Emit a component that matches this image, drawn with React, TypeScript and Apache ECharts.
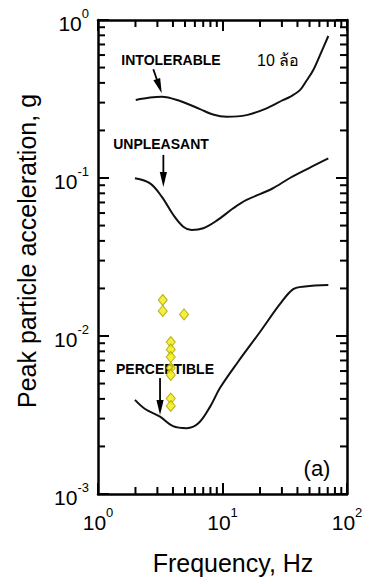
import React, { useEffect, useRef } from 'react';
import * as echarts from 'echarts';

const FONT = '"Liberation Sans", Arial, Helvetica, sans-serif';

const X_MIN = 1;
const X_MAX = 100;
const Y_MIN = 0.001;
const Y_MAX = 1;

// Frequency (Hz) / acceleration (g)
const intolerableX = [2.01, 2.62, 3.25, 4.56, 6.6, 8.39, 10.8, 15.6, 22.6, 30.8, 34.8, 41.9, 47.7, 53.6, 60.7, 70.8];
const intolerableY = [0.312, 0.323, 0.327, 0.307, 0.273, 0.252, 0.244, 0.25, 0.276, 0.312, 0.326, 0.36, 0.417, 0.483, 0.6, 0.792];

const unpleasantX = [1.98, 2.62, 3.25, 4.03, 4.84, 5.66, 7.01, 8.98, 12.2, 15.6, 25, 34.8, 50, 70.8];
const unpleasantY = [0.0995, 0.0925, 0.0762, 0.0583, 0.0492, 0.0469, 0.0481, 0.0537, 0.0643, 0.0726, 0.0855, 0.1, 0.116, 0.133];

const perceptibleX = [1.98, 2.39, 3.15, 4.0, 5.16, 6.4, 8.0, 9.56, 13.3, 20.0, 29.0, 37.0, 46.0, 70.8];
const perceptibleY = [0.00394, 0.00345, 0.00309, 0.00269, 0.00261, 0.0028, 0.0036, 0.0047, 0.00685, 0.0106, 0.01595, 0.0198, 0.0206, 0.021];

const measuredX = [3.31, 3.31, 4.91, 3.84, 3.84, 3.84, 3.84, 3.84, 3.84, 3.84];
const measuredY = [0.0169, 0.0144, 0.0137, 0.00916, 0.00822, 0.00736, 0.00627, 0.00567, 0.00402, 0.00361];

const xMinorTicks = [2, 3, 4, 5, 6, 7, 8, 9, 20, 30, 40, 50, 60, 70, 80, 90];
const yMinorTicks = [
  0.002, 0.003, 0.004, 0.005, 0.006, 0.007, 0.008, 0.009,
  0.02, 0.03, 0.04, 0.05, 0.06, 0.07, 0.08, 0.09,
  0.2, 0.3, 0.4, 0.5, 0.6, 0.7, 0.8, 0.9,
];

// arrows: [tailX, tailY, tipX, tipY]
const arrowIntolerable = [2.78, 0.488, 3.25, 0.344];
const arrowUnpleasant = [3.35, 0.14, 3.35, 0.0877];
const arrowPerceptible = [3.15, 0.00542, 3.15, 0.00316];

const zip = (xs: number[], ys: number[]) => xs.map((x, i) => [x, ys[i]]);

const expLabel = (v: number) => {
  const e = Math.round(Math.log10(v));
  return `{b|10}{s|${e}}`;
};

const labelRich = {
  b: { fontSize: 21, fontFamily: FONT, color: '#000', padding: [6, 0, 0, 0] },
  s: { fontSize: 13, fontFamily: FONT, color: '#000', verticalAlign: 'top' },
};

const axisLine = { show: true, onZero: false, lineStyle: { color: '#000', width: 2.5 } };
const axisTick = { show: true, inside: true, length: 11, lineStyle: { color: '#000', width: 2 } };

export default function App() {
  const ref = useRef<HTMLDivElement>(null);

  useEffect(() => {
    const chart = echarts.init(ref.current!, null, { renderer: 'svg' });

    const lineSeries = (name: string, xs: number[], ys: number[]) => ({
      name,
      type: 'line',
      data: zip(xs, ys),
      smooth: 0.35,
      showSymbol: false,
      symbol: 'none',
      lineStyle: { color: '#111', width: 2 },
      z: 2,
      silent: true,
    });

    const tickLine = (x1: number, y1: number, x2: number, y2: number) => ({
      type: 'line',
      shape: { x1, y1, x2, y2 },
      style: { stroke: '#000', lineWidth: 2 },
    });

    const option: any = {
      animation: false,
      backgroundColor: '#fff',
      grid: { left: 98, right: 25, top: 20, bottom: 90 },
      xAxis: [
        {
          type: 'log', logBase: 10, min: X_MIN, max: X_MAX, position: 'bottom',
          axisLine, axisTick, splitLine: { show: false }, minorTick: { show: false },
          axisLabel: { formatter: expLabel, rich: labelRich, margin: 12 },
        },
        {
          type: 'log', logBase: 10, min: X_MIN, max: X_MAX, position: 'top',
          axisLine, axisTick, splitLine: { show: false }, axisLabel: { show: false },
        },
      ],
      yAxis: [
        {
          type: 'log', logBase: 10, min: Y_MIN, max: Y_MAX, position: 'left',
          axisLine, axisTick, splitLine: { show: false }, minorTick: { show: false },
          axisLabel: { formatter: expLabel, rich: labelRich, margin: 9 },
        },
        {
          type: 'log', logBase: 10, min: Y_MIN, max: Y_MAX, position: 'right',
          axisLine, axisTick, splitLine: { show: false }, axisLabel: { show: false },
        },
      ],
      series: [
        lineSeries('INTOLERABLE', intolerableX, intolerableY),
        lineSeries('UNPLEASANT', unpleasantX, unpleasantY),
        lineSeries('PERCEPTIBLE', perceptibleX, perceptibleY),
        {
          name: 'measured',
          type: 'scatter',
          data: zip(measuredX, measuredY),
          symbol: 'diamond',
          symbolSize: [9, 11],
          itemStyle: { color: '#f3ec0a', borderColor: '#a59d00', borderWidth: 1 },
          z: 5,
          silent: true,
        },
        {
          name: 'xMinor',
          type: 'custom',
          clip: false,
          silent: true,
          data: xMinorTicks.map((v) => [v, Y_MIN]),
          encode: { x: 0, y: 1 },
          renderItem: (_p: any, api: any) => {
            const v = api.value(0);
            const b = api.coord([v, Y_MIN]);
            const t = api.coord([v, Y_MAX]);
            return {
              type: 'group',
              children: [tickLine(b[0], b[1], b[0], b[1] - 7), tickLine(t[0], t[1], t[0], t[1] + 7)],
            };
          },
          z: 3,
        },
        {
          name: 'yMinor',
          type: 'custom',
          clip: false,
          silent: true,
          data: yMinorTicks.map((v) => [X_MIN, v]),
          encode: { x: 0, y: 1 },
          renderItem: (_p: any, api: any) => {
            const v = api.value(1);
            const l = api.coord([X_MIN, v]);
            const r = api.coord([X_MAX, v]);
            return {
              type: 'group',
              children: [tickLine(l[0], l[1], l[0] + 7, l[1]), tickLine(r[0], r[1], r[0] - 7, r[1])],
            };
          },
          z: 3,
        },
      ],
    };

    chart.setOption(option);

    const arrowEls = (a: number[]) => {
      const p1 = chart.convertToPixel({ gridIndex: 0 }, [a[0], a[1]]) as number[];
      const p2 = chart.convertToPixel({ gridIndex: 0 }, [a[2], a[3]]) as number[];
      const dx = p2[0] - p1[0];
      const dy = p2[1] - p1[1];
      const len = Math.sqrt(dx * dx + dy * dy);
      const ux = dx / len;
      const uy = dy / len;
      const L = 15;
      const W = 3.6;
      const bx = p2[0] - ux * L;
      const by = p2[1] - uy * L;
      return [
        { type: 'line', z: 4, shape: { x1: p1[0], y1: p1[1], x2: bx + ux * 2, y2: by + uy * 2 }, style: { stroke: '#000', lineWidth: 1.8 } },
        {
          type: 'polygon', z: 4,
          shape: { points: [[p2[0], p2[1]], [bx - uy * W, by + ux * W], [bx + uy * W, by - ux * W]] },
          style: { fill: '#000' },
        },
      ];
    };

    const text = (x: number, y: number, t: string, size: number, weight: string, align: string, rotation = 0) => ({
      type: 'text',
      x,
      y,
      rotation,
      z: 1,
      style: {
        text: t,
        fontSize: size,
        fontFamily: FONT,
        fontWeight: weight,
        fill: '#000',
        align,
        verticalAlign: 'middle',
        textAlign: align,
        textVerticalAlign: 'middle',
      },
    });

    chart.setOption({
      graphic: [
        text(171, 60, 'INTOLERABLE', 14, 'bold', 'center'),
        text(257, 60, '10 ล้อ', 16, 'normal', 'left'),
        text(161, 144, 'UNPLEASANT', 14, 'bold', 'center'),
        text(165, 369, 'PERCEPTIBLE', 14, 'bold', 'center'),
        text(317, 468, '(a)', 22, 'normal', 'center'),
        text(233, 563, 'Frequency, Hz', 25, 'normal', 'center'),
        text(27, 251, 'Peak particle acceleration, g', 25, 'normal', 'center', Math.PI / 2),
        ...arrowEls(arrowIntolerable),
        ...arrowEls(arrowUnpleasant),
        ...arrowEls(arrowPerceptible),
      ],
    });

    return () => chart.dispose();
  }, []);

  return (
    <div
      ref={ref}
      style={{ position: 'absolute', left: 0, top: 0, width: 372, height: 584, background: '#fff' }}
    />
  );
}
